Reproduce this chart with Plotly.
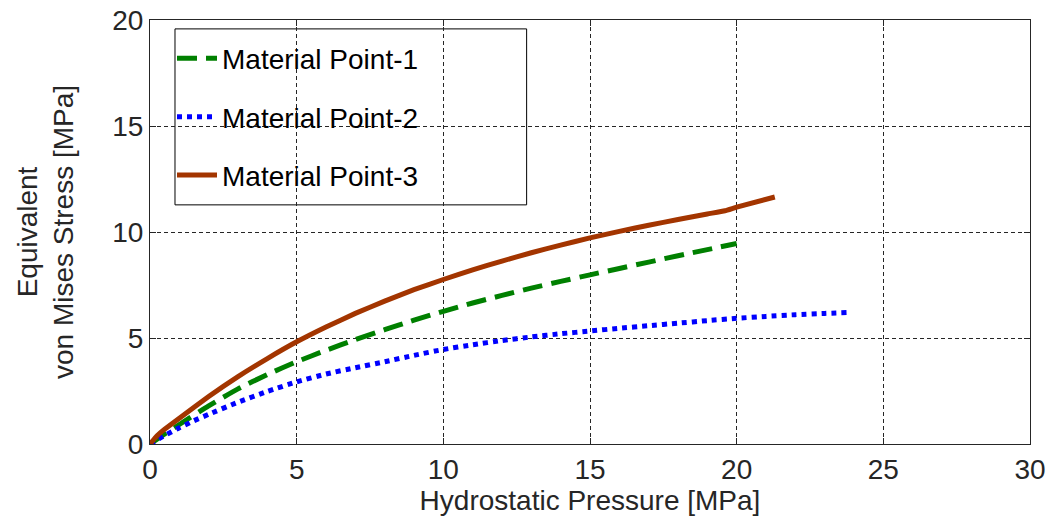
import plotly.graph_objects as go

# Data
mp1_x = [0, 0.5, 1, 2, 3, 4, 5, 6, 7, 8, 9, 10, 11, 12, 13, 14, 15, 16, 17, 18, 19, 20]
mp1_y = [0, 0.47, 0.92, 1.8, 2.6, 3.28, 3.88, 4.42, 4.92, 5.39, 5.84, 6.26, 6.65, 7.01,
         7.35, 7.67, 7.98, 8.28, 8.58, 8.88, 9.17, 9.46]

mp2_x = [0, 0.5, 1, 1.5, 2, 3, 4, 5, 6, 7, 8, 9, 10, 11, 12, 13, 14, 15, 16, 17, 18, 19,
         20, 21, 22, 23, 23.75]
mp2_y = [0, 0.4, 0.77, 1.1, 1.4, 1.97, 2.48, 2.93, 3.3, 3.6, 3.88, 4.18, 4.46, 4.68, 4.88,
         5.05, 5.2, 5.33, 5.46, 5.58, 5.7, 5.82, 5.93, 6.02, 6.1, 6.16, 6.2]

mp3_x = [0, 0.25, 0.5, 1, 2, 3, 4, 5, 6, 7, 8, 9, 10, 11, 12, 13, 14, 15, 16, 17, 18, 19,
         19.6, 20.0, 21.3]
mp3_y = [0, 0.4, 0.7, 1.22, 2.24, 3.18, 4.03, 4.82, 5.52, 6.16, 6.74, 7.28, 7.76, 8.21,
         8.63, 9.02, 9.38, 9.72, 10.03, 10.32, 10.59, 10.85, 11.0, 11.17, 11.65]

names = ["Material Point-1", "Material Point-2", "Material Point-3"]
x_ticks = [0, 5, 10, 15, 20, 25, 30]
y_ticks = [0, 5, 10, 15, 20]

font_family = "Liberation Sans, Arial, sans-serif"
txt = "#262626"
FS = 28

fig = go.Figure()
fig.add_trace(go.Scatter(x=mp1_x, y=mp1_y, mode="lines", name=names[0],
                         line=dict(color="#008000", width=5, dash="20px,9px", shape="spline", smoothing=0.5),
                         legendgroup="a"))
fig.add_trace(go.Scatter(x=mp2_x, y=mp2_y, mode="lines", name=names[1],
                         line=dict(color="#0000FF", width=5, dash="5px,5px", shape="spline", smoothing=0.5),
                         legendgroup="b"))
fig.add_trace(go.Scatter(x=mp3_x, y=mp3_y, mode="lines", name=names[2],
                         line=dict(color="#A33500", width=5, shape="spline", smoothing=0.4),
                         legendgroup="c"))

axis_common = dict(
    showline=True, linecolor=txt, linewidth=1, mirror="all",
    showgrid=True, gridcolor="#262626", griddash="4px,3px", gridwidth=1,
    ticks="inside", ticklen=6, tickcolor=txt,
    tickfont=dict(family=font_family, size=FS, color=txt),
    zeroline=False, automargin=False,
)

fig.update_layout(
    width=1049, height=524,
    margin=dict(l=150, r=19, t=20, b=80, autoexpand=False),
    paper_bgcolor="white", plot_bgcolor="white",
    font=dict(family=font_family, color=txt),
    xaxis=dict(range=[0, 30], tickvals=x_ticks,
               title=dict(text="Hydrostatic Pressure [MPa]",
                          font=dict(family=font_family, size=FS, color=txt), standoff=4),
               **axis_common),
    yaxis=dict(range=[0, 20], tickvals=y_ticks,
               title=dict(text="Equivalent<br>von Mises Stress [MPa]",
                          font=dict(family=font_family, size=FS, color=txt), standoff=30),
               **axis_common),
    legend=dict(x=0.025, y=0.968, xanchor="left", yanchor="top",
                bgcolor="rgba(0,0,0,0)", borderwidth=0,
                font=dict(family=font_family, size=FS, color="black"),
                traceorder="grouped", tracegroupgap=19, itemwidth=40),
    showlegend=True,
    shapes=[dict(type="rect", xref="paper", yref="paper",
                 x0=0.0284, x1=0.428, y0=0.564, y1=0.979,
                 line=dict(color="black", width=1), fillcolor="white", layer="below")],
)

fig.write_html("out.html")
